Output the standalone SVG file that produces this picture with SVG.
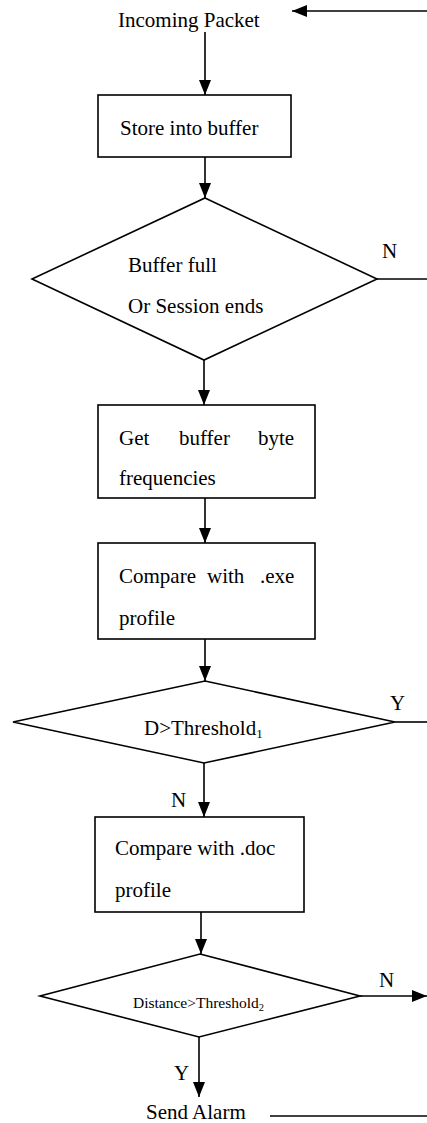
<svg xmlns="http://www.w3.org/2000/svg" width="427" height="1123" viewBox="0 0 427 1123">
<style>
.t{font-family:"Liberation Serif","Times New Roman",serif;font-size:21px;fill:#000}
.s{font-family:"Liberation Serif","Times New Roman",serif;font-size:15.5px;fill:#000}
.n{fill:#fff;stroke:#000;stroke-width:1.6}
.c{fill:none;stroke:#000;stroke-width:1.6}
</style>
<defs>
<marker id="ah" viewBox="0 0 15 12" refX="15" refY="6" markerWidth="15" markerHeight="12" markerUnits="userSpaceOnUse" orient="auto">
<path d="M0,0 L15,6 L0,12 Z" fill="#000"/>
</marker>
</defs>
<rect width="427" height="1123" fill="#fff"/>
<g id="connectors">
<path class="c" d="M427,11 H292" marker-end="url(#ah)"/>
<path class="c" d="M205,32 V95" marker-end="url(#ah)"/>
<path class="c" d="M205,157 V198" marker-end="url(#ah)"/>
<path class="c" d="M377,279 H427"/>
<path class="c" d="M204,360 V405" marker-end="url(#ah)"/>
<path class="c" d="M205,498 V543" marker-end="url(#ah)"/>
<path class="c" d="M205,639 V681" marker-end="url(#ah)"/>
<path class="c" d="M395,722 H427"/>
<path class="c" d="M204,763 V817" marker-end="url(#ah)"/>
<path class="c" d="M201,912 V954" marker-end="url(#ah)"/>
<path class="c" d="M360,996 H427" marker-end="url(#ah)"/>
<path class="c" d="M199,1037 V1097" marker-end="url(#ah)"/>
<path class="c" d="M270,1116 H427"/>
<text class="t" x="382" y="258">N</text>
<text class="t" x="390" y="710">Y</text>
<text class="t" x="171" y="807">N</text>
<text class="t" x="379" y="987">N</text>
<text class="t" x="174" y="1080">Y</text>
</g>
<g id="incoming">
<text class="t" x="118" y="27">Incoming Packet</text>
</g>
<g id="store">
<rect class="n" x="98" y="95" width="193" height="62"/>
<text class="t" x="120" y="135">Store into buffer</text>
</g>
<g id="bufferFull">
<polygon class="n" points="205,198 377,279 204,360 32,279"/>
<text class="t" x="128" y="272">Buffer full</text>
<text class="t" x="128" y="313">Or Session ends</text>
</g>
<g id="getFreq">
<rect class="n" x="98" y="405" width="217" height="93"/>
<text class="t" y="445"><tspan x="119">Get</tspan><tspan x="179">buffer</tspan><tspan x="258">byte</tspan></text>
<text class="t" x="119" y="485">frequencies</text>
</g>
<g id="compareExe">
<rect class="n" x="98" y="543" width="217" height="96"/>
<text class="t" y="583"><tspan x="119">Compare</tspan><tspan x="207">with</tspan><tspan x="260">.exe</tspan></text>
<text class="t" x="119" y="625">profile</text>
</g>
<g id="threshold1">
<polygon class="n" points="205,681 395,722 204,763 13,722"/>
<text class="t" x="144" y="735">D&gt;Threshold<tspan font-size="13" dy="3">1</tspan></text>
</g>
<g id="compareDoc">
<rect class="n" x="95" y="817" width="209" height="95"/>
<text class="t" x="115" y="855">Compare with .doc</text>
<text class="t" x="115" y="897">profile</text>
</g>
<g id="threshold2">
<polygon class="n" points="200,954 360,996 199,1037 40,996"/>
<text class="s" x="133" y="1008">Distance&gt;Threshold<tspan font-size="10.5" dy="3">2</tspan></text>
</g>
<g id="sendAlarm">
<text class="t" x="146" y="1119">Send Alarm</text>
</g>
</svg>
